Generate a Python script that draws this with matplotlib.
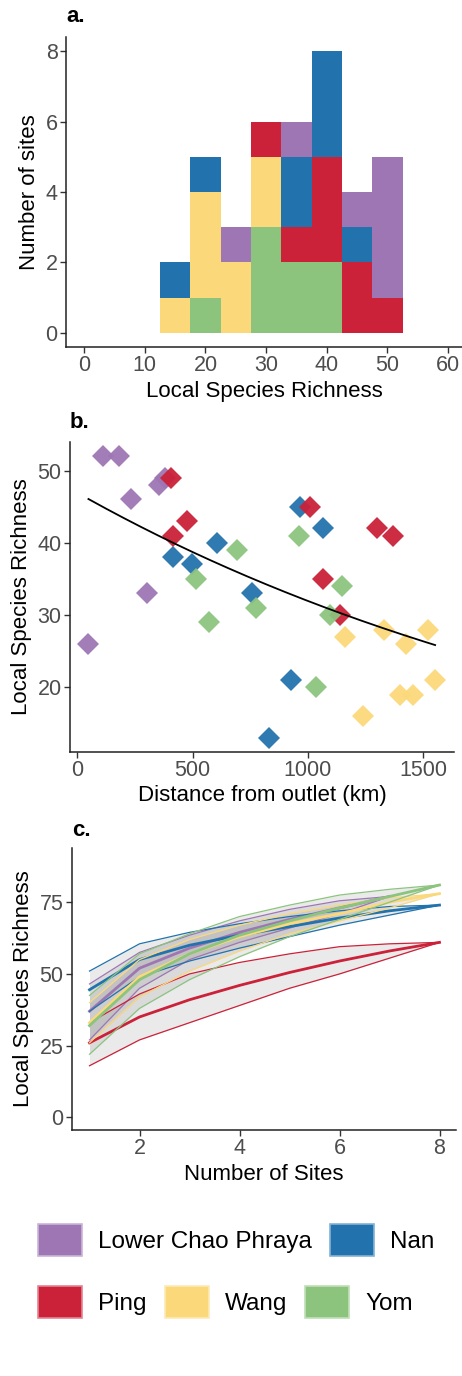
import matplotlib
matplotlib.use('Agg')
import matplotlib.pyplot as plt
from matplotlib.patches import Patch
import matplotlib.colors as mcolors
import numpy as np

plt.rcParams['font.family'] = ['Liberation Sans', 'DejaVu Sans']

rivers = ['Lower Chao Phraya', 'Nan', 'Ping', 'Wang', 'Yom']
colors = {'Lower Chao Phraya': '#9E76B4', 'Nan': '#2273AD', 'Ping': '#CB2139',
          'Wang': '#FBD87A', 'Yom': '#8CC47E'}

# site data: distance from outlet (km) and local species richness
dist_lcp = [48, 110, 182, 233, 300, 355, 380]
rich_lcp = [26, 52, 52, 46, 33, 48, 49]
dist_nan = [413, 496, 604, 756, 965, 1066, 926, 831]
rich_nan = [38, 37, 40, 33, 45, 42, 21, 13]
dist_ping = [405, 416, 477, 1011, 1064, 1139, 1300, 1370]
rich_ping = [49, 41, 43, 45, 35, 30, 42, 41]
dist_wang = [1160, 1240, 1329, 1399, 1454, 1425, 1522, 1552]
rich_wang = [27, 16, 28, 19, 19, 26, 28, 21]
dist_yom = [513, 572, 694, 775, 961, 1035, 1095, 1146]
rich_yom = [35, 29, 39, 31, 41, 20, 30, 34]

dist = {'Lower Chao Phraya': dist_lcp, 'Nan': dist_nan, 'Ping': dist_ping,
        'Wang': dist_wang, 'Yom': dist_yom}
rich = {'Lower Chao Phraya': rich_lcp, 'Nan': rich_nan, 'Ping': rich_ping,
        'Wang': rich_wang, 'Yom': rich_yom}

# accumulation curves (number of sites vs richness): mean, lower, upper
acc_lcp_mean = [37, 52, 59, 64.5, 69, 73, 77]
acc_lcp_low = [27, 45, 55, 61, 66, 71, 77]
acc_lcp_up = [46.5, 57.5, 63.5, 68.5, 72.5, 75.5, 77]
acc_nan_mean = [44.5, 55, 60, 63.5, 66.5, 69.5, 72, 74]
acc_nan_low = [37, 49, 54.5, 59, 63, 67, 70.5, 74]
acc_nan_up = [51, 60.5, 64.5, 67.5, 70, 72, 73.5, 74]
acc_ping_mean = [26, 35, 41, 46, 50.5, 54.5, 58, 61]
acc_ping_low = [18, 27, 33, 39, 45, 50, 55.5, 61]
acc_ping_up = [33, 43, 50, 54, 57, 59.5, 60.5, 61]
acc_wang_mean = [33, 49, 57, 63, 67.5, 71, 75, 78]
acc_wang_low = [26, 42, 51, 58, 64, 68.5, 73, 78]
acc_wang_up = [40, 55, 62, 67, 71, 74, 76.5, 78]
acc_yom_mean = [32, 48, 57, 63.5, 68.5, 73, 77, 81]
acc_yom_low = [22, 38, 48, 56, 63, 69, 75, 81]
acc_yom_up = [42.5, 57, 64, 70, 74, 77.5, 79.5, 81]

acc = {'Lower Chao Phraya': (acc_lcp_mean, acc_lcp_low, acc_lcp_up),
       'Nan': (acc_nan_mean, acc_nan_low, acc_nan_up),
       'Ping': (acc_ping_mean, acc_ping_low, acc_ping_up),
       'Wang': (acc_wang_mean, acc_wang_low, acc_wang_up),
       'Yom': (acc_yom_mean, acc_yom_low, acc_yom_up)}

W, H = 462, 1376
fig = plt.figure(figsize=(W / 100, H / 100), dpi=100)


def box(l, r, t, b):
    return [l / W, 1 - b / H, (r - l) / W, (b - t) / H]


def style(ax):
    for s in ['top', 'right']:
        ax.spines[s].set_visible(False)
    for s in ['left', 'bottom']:
        ax.spines[s].set_linewidth(1.1)
        ax.spines[s].set_color('#222222')
    ax.tick_params(labelsize=15.5, labelcolor='#4D4D4D', length=4, width=1, pad=2,
                   color='#333333')


# a. stacked histogram
ax1 = fig.add_axes(box(66, 462, 37, 347))
stack_order = ['Yom', 'Wang', 'Ping', 'Nan', 'Lower Chao Phraya']
ax1.hist([rich[r] for r in stack_order], bins=np.arange(12.5, 53, 5), stacked=True,
         color=[colors[r] for r in stack_order], edgecolor='none')
ax1.set_xlim(-3, 62.3)
ax1.set_ylim(-0.4, 8.4)
ax1.set_xticks([0, 10, 20, 30, 40, 50, 60])
ax1.set_yticks([0, 2, 4, 6, 8])
ax1.set_xlabel('Local Species Richness', fontsize=16, labelpad=3)
ax1.set_ylabel('Number of sites', fontsize=16, labelpad=4)
style(ax1)
fig.text(66 / W, 1 - 16 / H, 'a.', fontsize=16, fontweight='bold', va='center')

# b. richness vs distance, with poisson glm fit
ax2 = fig.add_axes(box(70, 454, 442, 752))
for r in rivers:
    ax2.plot(dist[r], rich[r], 'D', color=colors[r], markersize=11, markeredgewidth=0,
             alpha=0.95)
xa = np.concatenate([dist[r] for r in rivers]).astype(float)
ya = np.concatenate([rich[r] for r in rivers]).astype(float)
X = np.column_stack([np.ones_like(xa), xa])
beta = np.array([np.log(ya.mean()), 0.0])
for _ in range(30):
    eta = X @ beta
    mu = np.exp(eta)
    z = eta + (ya - mu) / mu
    beta = np.linalg.solve(X.T @ (X * mu[:, None]), X.T @ (mu * z))
xs = np.linspace(xa.min(), xa.max(), 200)
ax2.plot(xs, np.exp(beta[0] + beta[1] * xs), color='black', lw=1.3)
ax2.set_xlim(-32, 1634)
ax2.set_ylim(11.05, 53.95)
ax2.set_xticks([0, 500, 1000, 1500])
ax2.set_yticks([20, 30, 40, 50])
ax2.set_xlabel('Distance from outlet (km)', fontsize=16, labelpad=3)
ax2.set_ylabel('Local Species Richness', fontsize=16, labelpad=4)
style(ax2)
fig.text(70 / W, 1 - 422 / H, 'b.', fontsize=16, fontweight='bold', va='center')

# c. site accumulation curves
ax3 = fig.add_axes(box(72, 456, 848, 1130))
for r in rivers:
    m, lo, up = acc[r]
    n = np.arange(1, len(m) + 1)
    ax3.fill_between(n, lo, up, color='#9A9A9A', alpha=0.2, lw=0)
for r in rivers:
    m, lo, up = acc[r]
    n = np.arange(1, len(m) + 1)
    ax3.plot(n, lo, color=colors[r], lw=0.9)
    ax3.plot(n, up, color=colors[r], lw=0.9)
    ax3.plot(n, m, color=colors[r], lw=2)
ax3.set_xlim(0.65, 8.33)
ax3.set_ylim(-4.4, 93.9)
ax3.set_xticks([2, 4, 6, 8])
ax3.set_yticks([0, 25, 50, 75])
ax3.set_xlabel('Number of Sites', fontsize=16, labelpad=3)
ax3.set_ylabel('Local Species Richness', fontsize=16, labelpad=4)
style(ax3)
fig.text(72 / W, 1 - 830 / H, 'c.', fontsize=16, fontweight='bold', va='center')


def handles(names):
    out = []
    for r in names:
        edge = mcolors.to_rgb(colors[r])
        edge = tuple(0.55 * c + 0.45 for c in edge)
        out.append(Patch(facecolor=colors[r], edgecolor=edge, lw=1.2, label=r))
    return out


leg_kw = dict(frameon=False, fontsize=17.5, handlelength=1.81, handleheight=1.65,
              handletextpad=0.66, columnspacing=0.74, borderpad=0, borderaxespad=0,
              loc='center left')
row1 = ['Lower Chao Phraya', 'Nan']
row2 = ['Ping', 'Wang', 'Yom']
fig.legend(handles=handles(row1), ncol=2, bbox_to_anchor=(38 / W, 1 - 1240 / H), **leg_kw)
fig.legend(handles=handles(row2), ncol=3, bbox_to_anchor=(38 / W, 1 - 1302 / H), **leg_kw)

fig.savefig('out.png', dpi=100)
